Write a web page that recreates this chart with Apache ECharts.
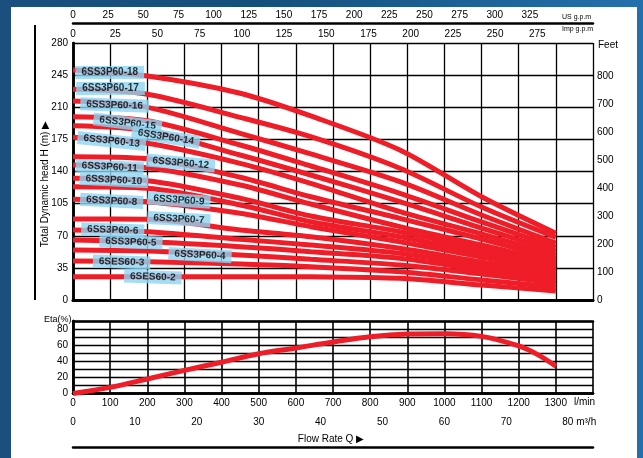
<!DOCTYPE html>
<html>
<head>
<meta charset="utf-8">
<script src="https://cdn.jsdelivr.net/npm/echarts@6/dist/echarts.min.js"></script>
<style>
  html, body { margin: 0; padding: 0; }
  body { width: 643px; height: 458px; overflow: hidden; position: relative;
         background: linear-gradient(90deg, #1b4f7e 0%, #15507c 40%, #2470ad 100%); }
  #panel { position: absolute; left: 11px; top: 7px; width: 626px; height: 451px; background: #fff; }
  #chart { position: absolute; left: 0; top: 0; width: 643px; height: 458px; }
</style>
</head>
<body>
<div id="panel"></div>
<div id="chart"></div>
<script>
// ---- data ----
const flowPoints = [0, 200, 450, 640, 880, 1100, 1300]; // l/min
const curveNames = ['6SS3P60-18','6SS3P60-17','6SS3P60-16','6SS3P60-15','6SS3P60-14','6SS3P60-13',
  '6SS3P60-12','6SS3P60-11','6SS3P60-10','6SS3P60-9','6SS3P60-8','6SS3P60-7','6SS3P60-6',
  '6SS3P60-5','6SS3P60-4','6SES60-3','6SES60-2'];
const head18 = [250.6, 244.0, 225.2, 200.5, 163.4, 112.5, 72.7];
const head17 = [229.5, 224.1, 199.0, 177.9, 143.5, 101.3, 68.3];
const head16 = [216.8, 209.9, 181.6, 159.1, 128.9, 92.6, 62.1];
const head15 = [199.7, 195.3, 168.9, 146.0, 116.2, 85.0, 57.7];
const head14 = [189.9, 184.4, 158.0, 136.2, 107.1, 78.4, 53.4];
const head13 = [177.2, 170.7, 148.9, 127.1, 96.2, 71.9, 49.0];
const head12 = [156.1, 153.9, 133.7, 112.5, 89.0, 66.5, 44.7];
const head11 = [147.1, 144.1, 125.3, 104.6, 79.9, 59.9, 41.4];
const head10 = [132.6, 130.0, 110.8, 91.5, 74.4, 55.6, 38.1];
const head9  = [123.4, 121.7, 103.5, 85.3, 69.0, 51.2, 34.9];
const head8  = [109.7, 107.1, 94.5, 79.9, 63.5, 46.8, 31.6];
const head7  = [88.2, 87.9, 76.3, 69.0, 56.3, 41.4, 28.3];
const head6  = [76.3, 74.4, 66.1, 59.9, 50.9, 37.0, 25.1];
const head5  = [65.4, 63.5, 58.1, 52.6, 45.4, 32.7, 21.8];
const head4  = [54.5, 53.4, 49.0, 44.3, 38.1, 28.3, 18.5];
const head3  = [42.5, 41.7, 39.2, 36.3, 30.8, 21.8, 14.2];
const head2  = [25.4, 25.4, 25.4, 25.2, 23.6, 16.3, 9.8];
const heads = [head18, head17, head16, head15, head14, head13, head12, head11, head10,
  head9, head8, head7, head6, head5, head4, head3, head2];

// label anchor (flow l/min, head m) and tilt (deg)
const labelFlow = [99, 101, 112, 147, 250, 104, 290, 99, 110, 285, 104, 285, 107, 156, 342, 131, 215];
const labelHead = [247.8, 230.4, 212.4, 192.8, 177.6, 173.2, 149.3, 144.9, 130.7, 108.9, 107.9, 88.2, 76.3, 63.2, 49.0, 41.4, 25.1];
const labelTilt = [0, 0, -2, -7, -9, -6, -5, -3, -3, -4, -3, -3, -2, -2, -3, -2, -2];

const etaFlow = [0, 100, 200, 300, 400, 500, 600, 700, 800, 900, 1000, 1100, 1200, 1250, 1300];
const etaValue = [0, 7.6, 18, 28.7, 38.8, 49.4, 56.5, 64, 70.5, 73.8, 74.3, 70.9, 59, 48.5, 33.8];

// ---- chart ----
const FONT = 'Liberation Sans, Arial, sans-serif';
const RED = '#ee1d27';
const black = (w) => ({ show: true, lineStyle: { color: '#000', width: w } });
const lbl = (extra) => Object.assign({ color: '#000', fontSize: 10, fontFamily: FONT }, extra || {});

const series = [];
heads.forEach((h, i) => {
  series.push({
    type: 'line', name: curveNames[i], xAxisIndex: 0, yAxisIndex: 0,
    data: flowPoints.map((q, j) => [q, h[j]]),
    smooth: 0.3, symbol: 'none', silent: true,
    lineStyle: { color: RED, width: 5 }, z: 3
  });
});
series.push({
  type: 'scatter', xAxisIndex: 0, yAxisIndex: 0, symbolSize: 0, z: 10, silent: true,
  data: curveNames.map((n, i) => ({
    value: [labelFlow[i], labelHead[i]], name: n,
    label: { rotate: labelTilt[i] }
  })),
  label: {
    show: true, position: 'inside', formatter: (p) => p.name,
    backgroundColor: '#8fd4f3', padding: [2, 6, 1, 6],
    color: '#000', fontSize: 10, fontWeight: 'bold', fontFamily: FONT
  }
});
series.push({
  type: 'line', xAxisIndex: 3, yAxisIndex: 2,
  data: etaFlow.map((q, j) => [q, etaValue[j]]),
  smooth: 0.35, symbol: 'none', silent: true,
  lineStyle: { color: RED, width: 5 }, z: 3
});

const chart = echarts.init(document.getElementById('chart'), null, { renderer: 'canvas' });
chart.setOption({
  animation: false,
  backgroundColor: 'transparent',
  grid: [
    { left: 73, top: 43, width: 520, height: 257 },
    { left: 73, top: 321, width: 520, height: 72.5 }
  ],
  xAxis: [
    { gridIndex: 0, type: 'value', min: 0, max: 1400, interval: 100, position: 'bottom',
      axisLine: black(3), axisTick: { show: false }, axisLabel: { show: false },
      splitLine: { show: true, lineStyle: { color: '#000', width: 1.3 } } },
    { gridIndex: 0, type: 'value', min: 0, max: 1400 / 4.546, interval: 25, position: 'top',
      axisLine: black(2.5), axisTick: { show: false }, splitLine: { show: false },
      axisLabel: lbl({ margin: 4, formatter: (v) => v > 275 ? '' : v }) },
    { gridIndex: 0, type: 'value', min: 0, max: 1400 / 3.785, interval: 25, position: 'top', offset: 20,
      axisLine: black(2.5), axisTick: { show: false }, splitLine: { show: false },
      axisLabel: lbl({ margin: 3, formatter: (v) => v > 325 ? '' : v }) },
    { gridIndex: 1, type: 'value', min: 0, max: 1400, interval: 100, position: 'bottom',
      axisLine: black(2.5), axisTick: { show: false },
      axisLabel: lbl({ margin: 5, formatter: (v) => v >= 1400 ? '' : v }),
      splitLine: { show: true, lineStyle: { color: '#000', width: 1.6 } } },
    { gridIndex: 1, type: 'value', min: 0, max: 84, interval: 10, position: 'bottom', offset: 19,
      axisLine: black(2.5), axisTick: { show: false }, splitLine: { show: false },
      axisLabel: lbl({ margin: 5,
        formatter: (v) => v === 80 ? '{u|80 m³/h}' : (v > 80 ? '' : v),
        rich: { u: { fontSize: 10, fontFamily: FONT, color: '#000', padding: [0, 0, 0, 22] } } }) },
    { gridIndex: 1, type: 'value', min: 0, max: 1400, position: 'bottom', offset: 54,
      axisLine: black(2.5), axisTick: { show: false }, axisLabel: { show: false }, splitLine: { show: false } },
    { gridIndex: 1, type: 'value', min: 0, max: 1400, position: 'top',
      axisLine: black(2.5), axisTick: { show: false }, axisLabel: { show: false }, splitLine: { show: false } }
  ],
  yAxis: [
    { gridIndex: 0, type: 'value', min: 0, max: 280, interval: 35, position: 'left',
      axisLine: black(2.5), axisTick: { show: false },
      axisLabel: lbl({ margin: 5 }),
      splitLine: { show: true, lineStyle: { color: '#000', width: 1.3 } } },
    { gridIndex: 0, type: 'value', min: 0, max: 280 / 0.3048, interval: 100, position: 'right',
      axisLine: black(2.5), axisTick: { show: false }, splitLine: { show: false },
      axisLabel: lbl({ margin: 4, formatter: (v) => v > 850 ? '' : v }) },
    { gridIndex: 1, type: 'value', min: 0, max: 90, interval: 10, position: 'left',
      axisLine: black(2.5), axisTick: { show: false },
      axisLabel: lbl({ margin: 5, formatter: (v) => (v % 20 === 0 && v <= 80) ? v : '' }),
      splitLine: { show: true, lineStyle: { color: '#000', width: 1.3 } } },
    { gridIndex: 1, type: 'value', min: 0, max: 90, position: 'right',
      axisLine: black(2.5), axisTick: { show: false }, axisLabel: { show: false }, splitLine: { show: false } }
  ],
  graphic: [
    { type: 'line', shape: { x1: 35, y1: 25, x2: 35, y2: 300 }, style: { stroke: '#000', lineWidth: 2 } },
    { type: 'text', x: 45, y: 184, rotation: Math.PI / 2,
      style: { text: 'Total Dynamic head H (m) ▶', font: '10px ' + FONT, fill: '#000', textAlign: 'center', textVerticalAlign: 'middle' } },
    { type: 'text', x: 562, y: 17, style: { text: 'US g.p.m', font: '7px ' + FONT, fill: '#000', textVerticalAlign: 'middle' } },
    { type: 'text', x: 562, y: 29, style: { text: 'Imp g.p.m', font: '7px ' + FONT, fill: '#000', textVerticalAlign: 'middle' } },
    { type: 'text', x: 598, y: 45, style: { text: 'Feet', font: '10px ' + FONT, fill: '#000', textVerticalAlign: 'middle' } },
    { type: 'text', x: 44, y: 320, style: { text: 'Eta(%)', font: '9px ' + FONT, fill: '#000', textVerticalAlign: 'middle' } },
    { type: 'text', x: 574, y: 402, style: { text: 'l/min', font: '10px ' + FONT, fill: '#000', textAlign: 'left', textVerticalAlign: 'middle' } },
    { type: 'text', x: 331, y: 439, style: { text: 'Flow Rate Q ▶', font: '10px ' + FONT, fill: '#000', textAlign: 'center', textVerticalAlign: 'middle' } }
  ],
  series: series
});
</script>
</body>
</html>
